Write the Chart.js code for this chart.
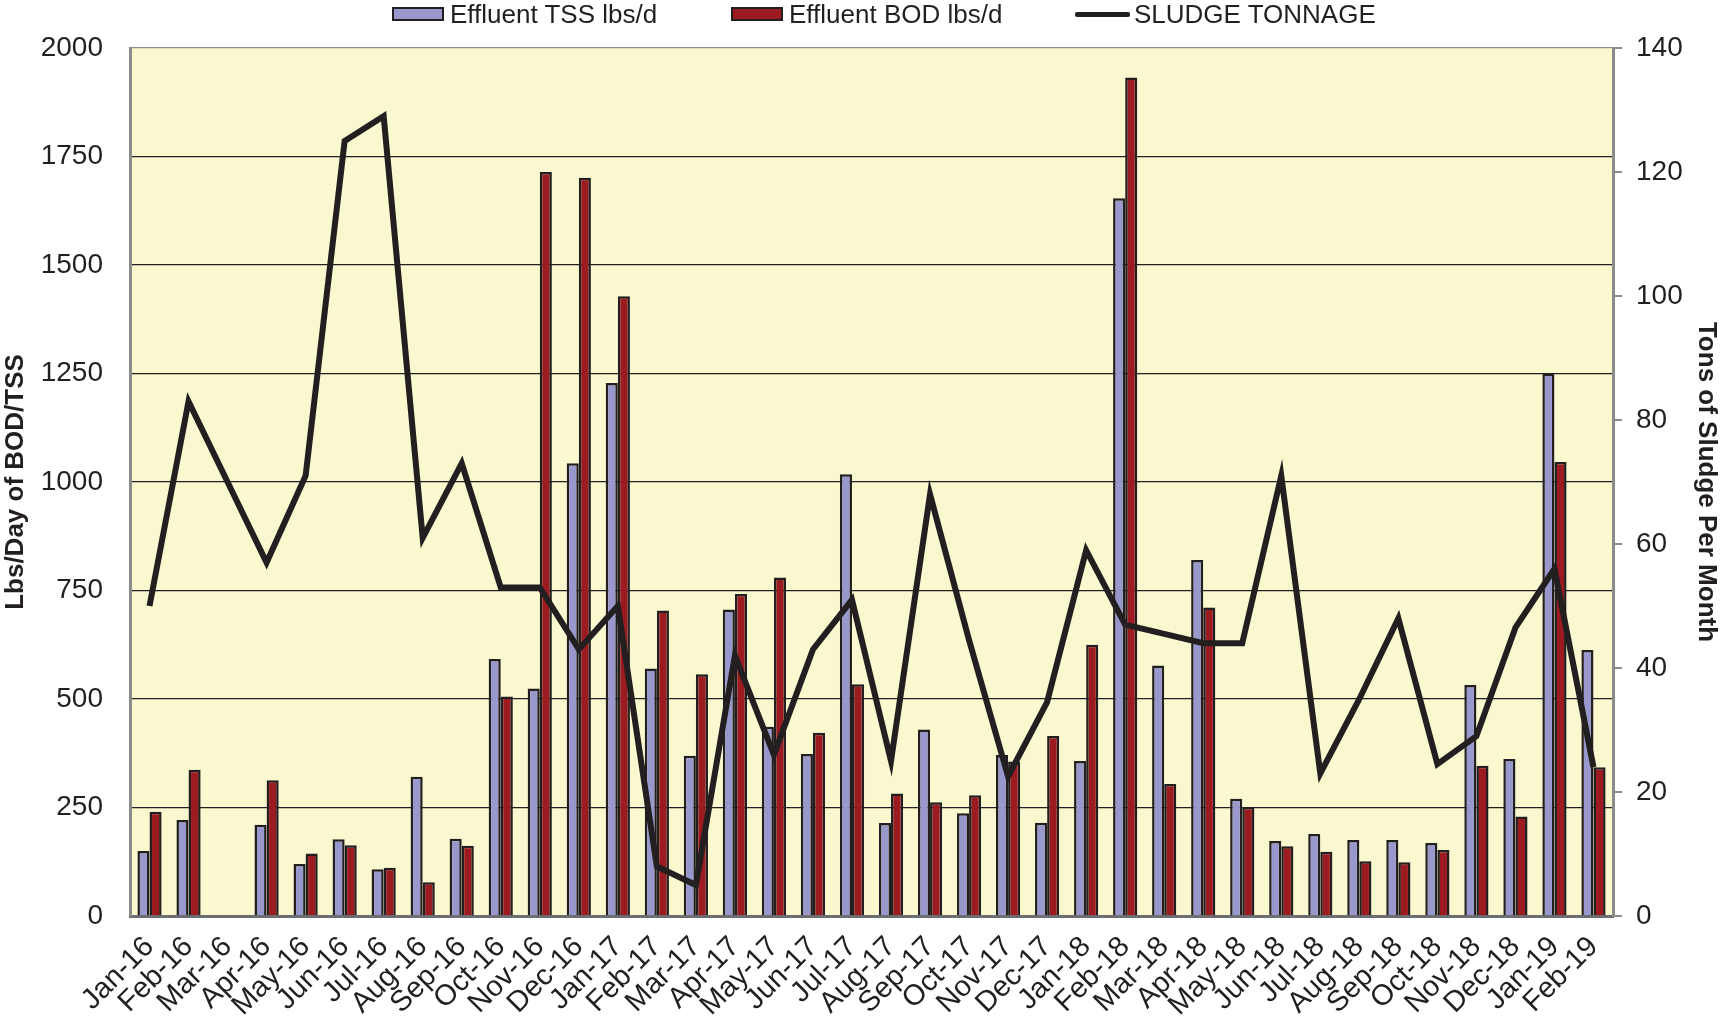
<!DOCTYPE html>
<html><head><meta charset="UTF-8"><title>Effluent TSS / BOD and Sludge Tonnage</title>
<script src="https://cdn.jsdelivr.net/npm/chart.js"></script>
<style>
    body { margin: 0; background: #fff; font-family: 'Liberation Sans', Arial, sans-serif; color: #231f20; }
    #wrap { position: relative; width: 1722px; height: 1021px; }
    #c { position: absolute; left: 0; top: 0; }
    .lg { position: absolute; top: 0; height: 28px; line-height: 28px; font-size: 26px; white-space: nowrap; }
    .box { position: absolute; top: 7px; width: 48px; height: 10px; border: 2px solid #231f20; }
    .ln { position: absolute; top: 12px; height: 5px; width: 55px; background: #231f20; border-radius: 2px; }
</style></head><body>
<div id="wrap">
    <canvas id="c" width="1722" height="1021"></canvas>
    <div class="box" style="left:392px;background:#9898cc"></div><div class="lg" style="left:450px">Effluent TSS lbs/d</div>
    <div class="box" style="left:731px;background:#9b1b20"></div><div class="lg" style="left:789px">Effluent BOD lbs/d</div>
    <div class="ln" style="left:1075px"></div><div class="lg" style="left:1134px">SLUDGE TONNAGE</div>
</div>
<script>
// months Jan-16 .. Feb-19
const months = ['Jan-16','Feb-16','Mar-16','Apr-16','May-16','Jun-16','Jul-16','Aug-16','Sep-16','Oct-16','Nov-16','Dec-16',
    'Jan-17','Feb-17','Mar-17','Apr-17','May-17','Jun-17','Jul-17','Aug-17','Sep-17','Oct-17','Nov-17','Dec-17',
    'Jan-18','Feb-18','Mar-18','Apr-18','May-18','Jun-18','Jul-18','Aug-18','Sep-18','Oct-18','Nov-18','Dec-18',
    'Jan-19','Feb-19'];

// lbs/d (left axis)
const tss = [150, 221, null, 210, 120, 177, 108, 321, 178, 592, 524, 1043,
    1228, 570, 369, 706, 436, 373, 1018, 214, 430, 237, 371, 215,
    357, 1654, 577, 820, 270, 173, 189, 175, 175, 168, 532, 362,
    1250, 613];
const bod = [240, 337, null, 313, 144, 163, 111, 78, 162, 506, 1714, 1701,
    1428, 704, 557, 742, 780, 422, 534, 282, 262, 278, 356, 415,
    625, 1932, 304, 711, 251, 161, 148, 126, 124, 152, 346, 229,
    1046, 343];

// tons per month (right axis)
const sludge = [50, 83, 70, 57, 71, 125, 129, 61, 73, 53, 53, 43,
    50, 8, 5, 42, 26, 43, 51, 25, 68, 44.5, 22.5, 34.5,
    59, 47, 45.5, 44, 44, 71, 23, 35, 48, 24.5, 29, 46.5,
    56, 24];

const INK = '#231f20';

// yellow plot background
const plotBg = {
    id: 'plotBg',
    beforeDraw(chart) {
        const { ctx, chartArea: a } = chart;
        ctx.save(); ctx.fillStyle = '#faf8cf';
        ctx.fillRect(a.left, a.top, a.right - a.left, a.bottom - a.top);
        ctx.restore();
    }
};

new Chart(document.getElementById('c'), {
    data: {
        labels: months,
        datasets: [
            { type: 'line', label: 'SLUDGE TONNAGE', data: sludge, yAxisID: 'y1', borderColor: INK, borderWidth: 6,
              pointRadius: 0, tension: 0, order: 0 },
            { type: 'bar', label: 'Effluent TSS lbs/d', data: tss, yAxisID: 'y', backgroundColor: '#9898cc',
              borderColor: INK, borderWidth: 2.5, categoryPercentage: 0.62, barPercentage: 1, order: 1 },
            { type: 'bar', label: 'Effluent BOD lbs/d', data: bod, yAxisID: 'y', backgroundColor: '#9b1b20',
              borderColor: INK, borderWidth: 2.5, categoryPercentage: 0.62, barPercentage: 1, order: 1 }
        ]
    },
    options: {
        responsive: false, animation: false,
        layout: { padding: { top: 48 } },
        plugins: { legend: { display: false }, tooltip: { enabled: false } },
        scales: {
            x: {
                grid: { display: false },
                border: { color: '#6d6e71', width: 3 },
                ticks: { color: INK, font: { size: 29, family: 'Liberation Sans' }, minRotation: 45, maxRotation: 45,
                          autoSkip: false, padding: 6 },
                afterFit(s) { s.height = 105; }
            },
            y: {
                position: 'left', min: 0, max: 2000,
                ticks: { stepSize: 250, color: INK, font: { size: 28, family: 'Liberation Sans' }, padding: 27,
                         callback: v => String(v) },
                grid: { drawTicks: false, lineWidth: 1.3, color: c => c.tick.value === 2000 ? '#8c8c8c' : INK },
                border: { color: '#8c8c8c', width: 3 },
                title: { display: true, text: 'Lbs/Day of BOD/TSS', color: INK, padding: 0,
                         font: { size: 26, weight: 'bold', family: 'Liberation Sans' } },
                afterFit(s) { s.width = 130; }
            },
            y1: {
                position: 'right', min: 0, max: 140,
                ticks: { stepSize: 20, color: INK, font: { size: 28, family: 'Liberation Sans' }, padding: 14 },
                grid: { drawOnChartArea: false, tickLength: 9, color: '#8c8c8c', lineWidth: 2 },
                border: { color: '#8c8c8c', width: 3 },
                title: { display: true, text: 'Tons of Sludge Per Month', color: INK, padding: 0,
                         font: { size: 26, weight: 'bold', family: 'Liberation Sans' } },
                afterFit(s) { s.width = 109; }
            }
        }
    },
    plugins: [plotBg]
});
</script></body></html>
